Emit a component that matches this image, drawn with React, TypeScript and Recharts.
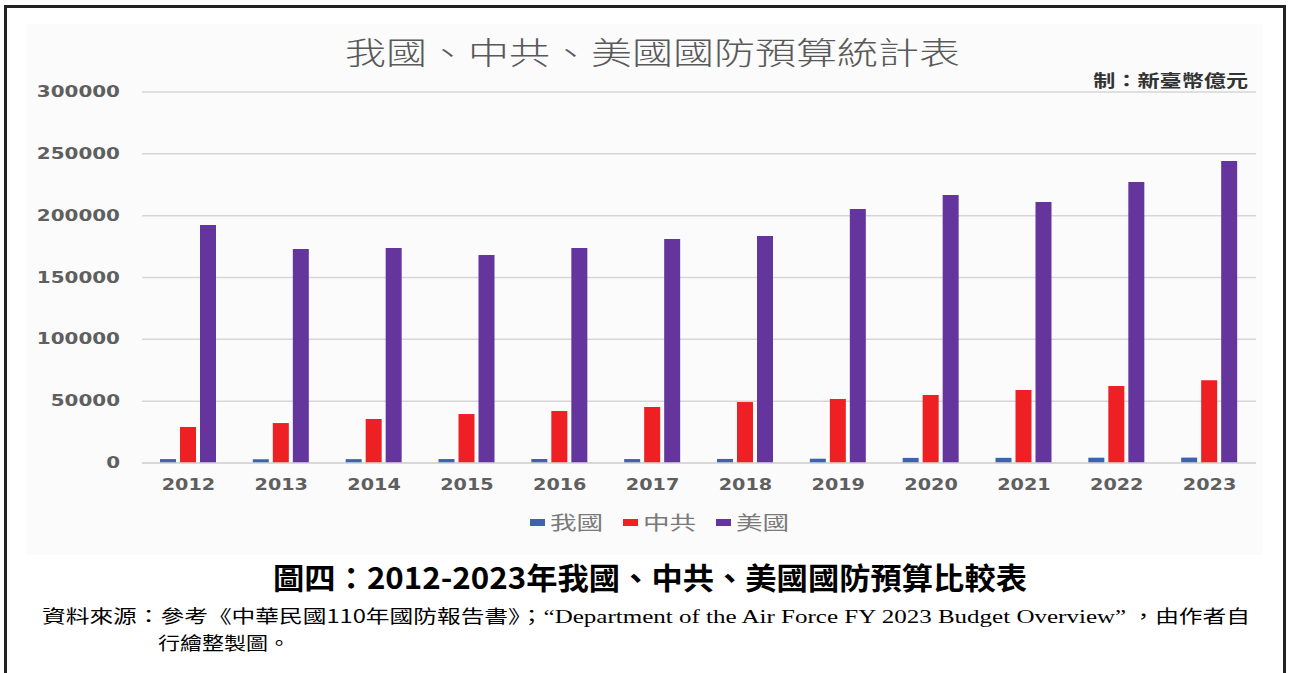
import React from 'react';
import { BarChart, Bar, XAxis, YAxis, CartesianGrid, Legend } from 'recharts';

const years = ['2012', '2013', '2014', '2015', '2016', '2017', '2018', '2019', '2020', '2021', '2022', '2023'];
const taiwan = [3172, 3127, 3124, 3193, 3226, 3192, 3277, 3460, 4113, 4170, 4276, 4384];
const china = [29100, 32300, 35600, 39600, 42000, 45300, 49300, 51800, 55000, 59000, 62300, 67000];
const usa = [192400, 173000, 173800, 168200, 173800, 181100, 183600, 205400, 216700, 211000, 227200, 244200];
const yTicks = [0, 50000, 100000, 150000, 200000, 250000, 300000];
const seriesNames = ['我國', '中共', '美國'];
const seriesColors = ['#3d63ae', '#ee2024', '#65359e'];

const chartTitle = '我國、中共、美國國防預算統計表';
const unitLabel = '制：新臺幣億元';
const caption = '圖四：2012-2023年我國、中共、美國國防預算比較表';
const sourceA = '資料來源：參考《中華民國110年國防報告書》；';
const sourceB = '“Department of the Air Force FY 2023 Budget Overview”';
const sourceC = '，由作者自';
const sourceLine2 = '行繪整製圖。';

const data = years.map((y, i) => ({ year: y, taiwan: taiwan[i], china: china[i], usa: usa[i] }));

const tickFont = '"DejaVu Sans", Verdana, sans-serif';
const cjk = '"Noto Sans CJK TC", sans-serif';
const serif = '"Liberation Serif", "Times New Roman", serif';

const YTick = (props: any) => {
  const { x, y, payload } = props;
  return (
    <text
      x={0}
      y={0}
      transform={`translate(${x},${y}) scale(1.33,1)`}
      textAnchor="end"
      dominantBaseline="central"
      fill="#5f5f5f"
      fontFamily={tickFont}
      fontWeight="bold"
      fontSize={15}
    >
      {payload.value}
    </text>
  );
};

const XTick = (props: any) => {
  const { x, y, payload } = props;
  return (
    <text
      x={0}
      y={0}
      transform={`translate(${x},${y}) scale(1.28,1)`}
      textAnchor="middle"
      dominantBaseline="central"
      fill="#5f5f5f"
      fontFamily={tickFont}
      fontWeight="bold"
      fontSize={15}
    >
      {payload.value}
    </text>
  );
};

const renderLegend = (props: any) => {
  const payload = [...(props.payload || [])].sort(
    (a: any, b: any) => seriesNames.indexOf(a.value) - seriesNames.indexOf(b.value)
  );
  return (
    <div style={{ display: 'flex', justifyContent: 'center', alignItems: 'center', paddingLeft: 32 }}>
      {payload.map((p: any, i: number) => (
        <div key={i} style={{ display: 'flex', alignItems: 'center', marginRight: i < payload.length - 1 ? 17 : 0 }}>
          <div style={{ width: 15, height: 7, background: p.color, marginRight: 5 }} />
          <div style={{ width: 56, height: 24, position: 'relative' }}>
            <span
              style={{
                position: 'absolute',
                left: 0,
                top: 0,
                fontFamily: cjk,
                fontSize: 19,
                lineHeight: '24px',
                color: '#7a7a7a',
                transform: 'scaleX(1.4)',
                transformOrigin: 'left center',
                whiteSpace: 'nowrap',
              }}
            >
              {p.value}
            </span>
          </div>
        </div>
      ))}
    </div>
  );
};

export default function App() {
  return (
    <div style={{ position: 'absolute', left: 0, top: 0, width: 1290, height: 673, background: '#ffffff', overflow: 'hidden' }}>
      <div style={{ position: 'absolute', left: 4, top: 5, width: 1276, height: 700, border: '3px solid #222' }} />
      <div style={{ position: 'absolute', left: 27, top: 24, width: 1236, height: 531, background: '#fbfbfb' }} />
      <div
        style={{
          position: 'absolute',
          right: 42,
          top: 68,
          fontFamily: cjk,
          fontSize: 17,
          lineHeight: '24px',
          color: '#333',
          fontWeight: 700,
          transform: 'scaleX(1.3)',
          transformOrigin: 'right center',
          whiteSpace: 'nowrap',
        }}
      >
        {unitLabel}
      </div>
      <div style={{ position: 'absolute', left: 0, top: 0 }}>
        <BarChart
          width={1290}
          height={560}
          data={data}
          margin={{ top: 92, right: 34, left: 0, bottom: 57 }}
          barSize={16}
          barGap={4}
          barCategoryGap={17}
        >
          <CartesianGrid horizontal vertical={false} stroke="#d6d6d6" strokeWidth={1.5} />
          <XAxis
            dataKey="year"
            height={40}
            axisLine={{ stroke: '#d6d6d6', strokeWidth: 1.5 }}
            tickLine={false}
            tickSize={0}
            tickMargin={22}
            tick={<XTick />}
            interval={0}
          />
          <YAxis
            width={142}
            domain={[0, 300000]}
            ticks={yTicks}
            axisLine={false}
            tickLine={false}
            tickSize={0}
            tickMargin={22}
            tick={<YTick />}
            interval={0}
          />
          <Legend verticalAlign="middle" align="center" layout="horizontal" wrapperStyle={{ top: 510, left: 0, width: 1290 }} content={renderLegend} />
          <Bar dataKey="taiwan" name={seriesNames[0]} fill={seriesColors[0]} isAnimationActive={false} />
          <Bar dataKey="china" name={seriesNames[1]} fill={seriesColors[1]} isAnimationActive={false} />
          <Bar dataKey="usa" name={seriesNames[2]} fill={seriesColors[2]} isAnimationActive={false} />
        </BarChart>
      </div>
      <svg width={1290} height={673} style={{ position: 'absolute', left: 0, top: 0, pointerEvents: 'none' }}>
        <text x={345} y={64} textLength={615} lengthAdjust="spacingAndGlyphs" fontFamily={cjk} fontSize={31} fontWeight={300} fill="#595959">
          {chartTitle}
        </text>
        <text x={273} y={589} textLength={754} lengthAdjust="spacingAndGlyphs" fontFamily={cjk} fontSize={30} fontWeight={700} fill="#000">
          {caption}
        </text>
        <text x={42} y={623} textLength={1208} lengthAdjust="spacingAndGlyphs" fontSize={18} fill="#000" xmlSpace="preserve">
          <tspan fontFamily={cjk}>{sourceA}</tspan>
          <tspan fontFamily={serif} fontSize={19}>{sourceB}</tspan>
          <tspan fontFamily={cjk}>{' ' + sourceC}</tspan>
        </text>
        <text x={158} y={650} textLength={132} lengthAdjust="spacingAndGlyphs" fontFamily={cjk} fontSize={18} fill="#000">
          {sourceLine2}
        </text>
      </svg>
    </div>
  );
}
